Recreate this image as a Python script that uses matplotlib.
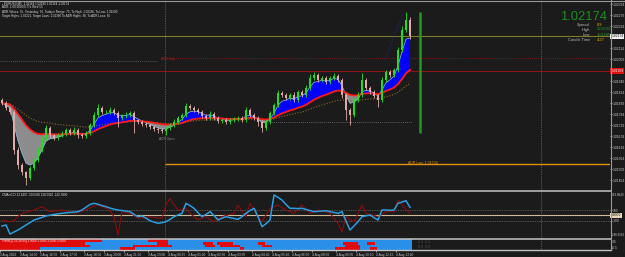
import matplotlib
matplotlib.use('Agg')
import matplotlib.pyplot as plt
from matplotlib.lines import Line2D
import matplotlib.transforms as mtransforms
import numpy as np
import pandas as pd

plt.rcParams['font.family'] = ['Liberation Sans', 'DejaVu Sans']

# ---------------- data ----------------
first_open = 1.01854
close = [1.01839, 1.01814, 1.01794, 1.01604, 1.01529, 1.01494, 1.01464, 1.01514, 1.01554, 1.01604,
         1.01664, 1.01714, 1.01679, 1.01664, 1.01679, 1.01684, 1.01704, 1.01689, 1.01704, 1.01679,
         1.01674, 1.01689, 1.01729, 1.01779, 1.01814, 1.01794, 1.01794, 1.01804, 1.01789, 1.01764,
         1.01774, 1.01779, 1.01789, 1.01754, 1.01744, 1.01734, 1.01729, 1.01719, 1.01709, 1.01704,
         1.01699, 1.01714, 1.01729, 1.01744, 1.01764, 1.01779, 1.01824, 1.01814, 1.01804, 1.01794,
         1.01774, 1.01764, 1.01784, 1.01764, 1.01749, 1.01754, 1.01744, 1.01754, 1.01759, 1.01764,
         1.01754, 1.01804, 1.01779, 1.01764, 1.01744, 1.01714, 1.01744, 1.01789, 1.01829, 1.01889,
         1.01879, 1.01864, 1.01879, 1.01854, 1.01894, 1.01879, 1.01914, 1.01964, 1.01979, 1.01954,
         1.01964, 1.01944, 1.01964, 1.01974, 1.01954, 1.01879, 1.01804, 1.01779, 1.01854, 1.01879,
         1.01954, 1.01914, 1.01894, 1.01874, 1.01854, 1.01954, 1.01994, 1.01979, 1.02004, 1.02104,
         1.02204, 1.02254, 1.02174]
upper_wick_pips = [1, 1, 0.5, 1, 1.5, 1, 0.5, 1, 1, 1.5,
                   1, 1.5, 1, 0.5, 1, 1.5, 1, 1, 1.5, 1,
                   1, 1, 1, 1.5, 2, 1, 1, 1.5, 1, 1,
                   1, 1.5, 1, 1, 0.5, 1, 1, 0.5, 1, 1,
                   1, 1, 1, 1.5, 1, 1, 1.5, 1, 1, 1,
                   1, 1, 1.5, 1, 1, 0.5, 1, 1, 1, 1,
                   1, 1.5, 1, 1, 1, 1, 1, 1, 1, 1.5,
                   1, 1, 1, 1.5, 1, 1, 1.5, 2, 1.5, 1,
                   1, 1, 1, 1.5, 1, 1, 1, 1, 1, 1.5,
                   3.5, 1, 1, 1, 1, 1.5, 1, 1, 1, 1.5,
                   2, 4, 1.5]
lower_wick_pips = [1, 1, 1, 2, 2, 1.5, 3.5, 1, 1, 1,
                   1, 1, 1.5, 1, 1, 1, 1, 1, 1, 1.5,
                   1, 1, 1, 1, 1, 1, 1, 1, 1, 4.5,
                   1, 1, 1, 6.5, 1, 1, 1, 1, 1, 1.5,
                   1, 2, 1, 1, 1, 1, 1, 1, 1, 1,
                   1, 1, 1, 1, 1, 1, 1, 1, 1, 1,
                   1, 1, 1, 1, 2, 2, 1, 1, 1, 1,
                   1, 1, 1, 1, 1, 1, 1, 1, 1, 1,
                   1, 1, 1, 1, 1, 1.5, 5, 5, 1, 1,
                   1, 1, 1, 1, 3.5, 1, 1, 1, 1, 1,
                   1, 1, 1.5]

cci_blue = [-191, -173, -337, -300, -264, -220, -173, -130, -82, -60,
            -35, -9, 5, 20, 30, 40, 48, 55, 62, 69,
            100, 150, 200, 222, 205, 180, 160, 135, 115, 100,
            90, 80, 69, 20, -22, -9, -50, -95, -120, -142,
            -130, -113, -70, -22, 10, 40, 222, 180, 131, 50,
            -22, 20, 69, 0, -82, -50, -22, -40, -55, -69,
            -20, 40, 90, 131, -22, -204, -150, -82, 373, 330,
            282, 200, 131, 131, 125, 131, 110, 90, 69, 75,
            80, 87, 70, 55, 40, 69, -100, -264, -190, -113,
            -22, -5, 9, -40, -82, 100, 100, 95, 100, 222,
            245, 269, 149]
cci_red = [-82, -100, -113, -90, -20, 40, 60, 80, 100, 130,
           160, 120, 69, 80, 90, 100, 80, 60, 40, 60,
           80, 100, 140, 170, 191, 160, 131, 80, -22, -355,
           69, 50, 40, 0, -51, -40, -30, -22, -35, -45,
           -51, 191, 313, 200, 100, 115, 131, 40, -20, -82,
           -50, -22, -70, -113, -60, -22, 0, 20, 40, 191,
           80, -22, 222, 100, -22, -113, 10, 131, 160, 191,
           140, 100, 70, 40, 110, 191, 110, 40, 70, 100,
           80, 60, 40, -50, -142, -295, -22, -70, -113, 40,
           191, 40, 20, 0, -22, 20, 69, 69, 69, 282,
           191, 110, 40]

# trend rows: red segments (candle index start, end); remaining span is blue
trend_red = [
    [(0, 25.5), (37, 42)],
    [(0, 21.25), (39.25, 42), (50.75, 53.25), (54.25, 58.25), (64.5, 66.25), (85.75, 89.5), (91.75, 93.75)],
    [(0, 22.5), (33.25, 43), (51.25, 53.75), (55, 60), (65.5, 68), (86.25, 90)],
    [(0, 10), (30, 33.75), (60, 61), (83.75, 90), (92.5, 94.25)],
]

price_ticks = [1.02334, 1.02279, 1.02224, 1.02114, 1.02059, 1.01949, 1.01894, 1.01839,
               1.01784, 1.01729, 1.01674, 1.01619, 1.01564, 1.01509, 1.01454]
x_tick_idx = [0, 5, 10, 15, 21, 26, 31, 37, 42, 47, 52, 57, 63, 68, 73, 78, 84, 89, 94, 99]
x_tick_labels = ["3 Aug 2022", "3 Aug 14:00", "3 Aug 16:00", "3 Aug 17:00", "3 Aug 18:00",
                 "3 Aug 20:00", "3 Aug 21:00", "3 Aug 23:00", "4 Aug 00:15", "4 Aug 01:20",
                 "4 Aug 02:30", "4 Aug 03:35", "4 Aug 04:40", "4 Aug 05:45", "4 Aug 06:50",
                 "4 Aug 08:00", "4 Aug 09:05", "4 Aug 10:50", "4 Aug 12:15", "4 Aug 13:20"]

current_price = 1.02174
red_level = 1.01999
adr_high = 1.02064
prev_high = 1.02049
open_level = 1.01744
adr_low = 1.01534
adr_open_text = 1.01659
range_bar = (1.01689, 1.02294)
proj_line_x = [95.75, 100.25]
proj_line_y = [1.02054, 1.02289]
day_sep = [40.75, 134.75]
range_bar_x = 104.5

# ---------------- styling ----------------
W, H = 625, 257
BG = '#1b1b1b'
GRID = '#8a8a8a'
SEP = '#c4c4c4'
TXT = '#c8c8c8'
UPC = '#1fe01f'
DNC = '#e0aaa8'

fig = plt.figure(figsize=(W / 100, H / 100), dpi=100, facecolor=BG)


def rect(y0, y1, x0=0, x1=610):
    return [x0 / W, 1 - y1 / H, (x1 - x0) / W, (y1 - y0) / H]


XL = (-0.5, 152)
ax = fig.add_axes(rect(0.5, 190))
axc = fig.add_axes(rect(192, 238))
axb = fig.add_axes(rect(239, 250))
for a in (ax, axc, axb):
    a.set_facecolor(BG)
    for s in a.spines.values():
        s.set_visible(False)
    a.set_xlim(*XL)
    a.tick_params(axis='x', bottom=False, labelbottom=False)

# ---------- main price panel ----------
idx = np.arange(len(close))
c = np.array(close)
o = np.concatenate([[first_open], c[:-1]])
hi = np.maximum(o, c) + np.array(upper_wick_pips) * 0.0001
lo = np.minimum(o, c) - np.array(lower_wick_pips) * 0.0001
up = c >= o
cols = np.where(up, UPC, DNC)

fast = pd.Series(c).ewm(span=4, adjust=False).mean().values
slow = pd.Series(c).ewm(span=20, adjust=False).mean().values
longma = pd.Series(c).ewm(span=40, adjust=False).mean().values

ax.set_ylim(1.01404, 1.02354)
ax.fill_between(idx, fast, slow, where=fast >= slow, interpolate=True, color='#0000ff', lw=0, zorder=2)
ax.fill_between(idx, fast, slow, where=fast < slow, interpolate=True, color='#8c8c8c', lw=0, zorder=2)
ax.plot(idx, fast, color='#8cc4ee', lw=0.5, zorder=3)
ax.plot(idx, longma, color='#8b6a2a', lw=0.8, ls=(0, (1, 1.5)), zorder=3)
ax.plot(idx, slow, color='#ff1a1a', lw=1.3, zorder=4)

ax.vlines(idx, lo, hi, colors=cols, lw=0.6, zorder=5)
body = np.maximum(np.abs(c - o), 0.00002)
ax.bar(idx, body, bottom=np.minimum(o, c), width=0.55, color=cols, lw=0, zorder=6)

for xs in day_sep:
    ax.axvline(xs, color=GRID, lw=0.5, ls=(0, (1, 1.5)), zorder=1)
ax.axhline(current_price, color='#7a7a2c', lw=0.8, zorder=1)
ax.axhline(red_level, color='#8a1414', lw=0.8, zorder=1)
ax.hlines(adr_high, day_sep[0], XL[1], color='#9a1a1a', lw=0.6, ls=(0, (1, 1.5)), zorder=1)
ax.hlines(prev_high, XL[0], day_sep[0] - 2, color='#666666', lw=0.6, ls=(0, (1, 1.5)), zorder=1)
ax.hlines(open_level, 65.75, 102.5, color='#777777', lw=0.6, ls=(0, (1, 1.5)), zorder=1)
ax.hlines(adr_low, day_sep[0], XL[1], color='#e0900f', lw=1.0, zorder=1)
ax.vlines(range_bar_x, range_bar[0], range_bar[1], color='#1f9a1f', lw=1.8, zorder=3)
ax.plot(proj_line_x, proj_line_y, color='#1a2aa0', lw=0.6, ls=(0, (1, 1.2)), zorder=3)

ax.text(day_sep[0] - 1, adr_high - 0.00002, 'ADR High', color='#b02020', fontsize=2.3, va='center', zorder=7)
ax.text(day_sep[0] - 1.5, adr_open_text, 'ADR Open', color='#8a8a8a', fontsize=2.3, va='center', zorder=7)
ax.text(101.5, adr_low + 0.00007, 'ADR Low: 1.01534', color='#e0900f', fontsize=2.5, va='center', zorder=7)

ax.yaxis.tick_right()
ax.set_yticks(price_ticks)
ax.set_yticklabels([f'{v:.5f}' for v in price_ticks])
ax.tick_params(axis='y', direction='out', length=1.5, width=0.5, pad=0.8, labelsize=2.4,
               colors=TXT)

tr = mtransforms.blended_transform_factory(ax.transAxes, ax.transData)
ax.text(1.002, current_price, f'{current_price:.5f}', transform=tr, fontsize=2.4, color='#111111',
        va='center', ha='left', clip_on=False,
        bbox=dict(boxstyle='square,pad=0.25', fc='#f0f0f0', ec='none'), zorder=10)
ax.text(1.002, red_level, f'{red_level:.5f}', transform=tr, fontsize=2.4, color='#f0f0f0',
        va='center', ha='left', clip_on=False,
        bbox=dict(boxstyle='square,pad=0.25', fc='#e01010', ec='none'), zorder=10)

info = ["\u25aa EURUSD,M5  1.02169 1.02180 1.02164 1.02174",
        "ADR: 1.00 0000/0.77s Wed 55",
        "ADR Values: 96, Yesterday: 90, Today's Range: 75, To High: 1.02236, To Low: 1.01580",
        "Target Highs: 1.02221, Target Lows: 1.01380 To ADR Highs: 38, To ADR Lows: 65"]
for k, line in enumerate(info):
    fig.text(2 / W, 1 - (3.5 + 4 * k) / H, line, color='#dddddd', fontsize=2.2, va='center', ha='left')

fig.text(607 / W, 1 - 17 / H, f'{current_price:.5f}', color='#1e8c1e', fontsize=9.4, va='center', ha='right')
rows = [("Spread", "0.9", '#d4b000', 25), ("High", "1.02236", '#2a9a2a', 29.5),
        ("Low", "1.01565", '#2a9a2a', 34.5), ("Candle Time", "4:27", '#d4b000', 40)]
for lab, val, vc, yy in rows:
    fig.text(590 / W, 1 - yy / H, lab, color='#b8b8b8', fontsize=2.9, va='center', ha='right')
    fig.text(597 / W, 1 - yy / H, val, color=vc, fontsize=2.9, va='center', ha='left')

# ---------- CCI panel ----------
axc.set_ylim(-409.6, 427.6)
axc.axhline(100, color=GRID, lw=0.5, ls=(0, (1, 1.5)))
axc.axhline(-100, color=GRID, lw=0.5, ls=(0, (1, 1.5)))
axc.axhline(0, color='#cdbb9a', lw=0.8)
for xs in day_sep:
    axc.axvline(xs, color=GRID, lw=0.5, ls=(0, (1, 1.5)))
axc.plot(idx, cci_red, color='#8e0c0c', lw=0.8, zorder=3)
axc.plot(idx, cci_blue, color='#2a9ee0', lw=1.1, zorder=4)
axc.yaxis.tick_right()
axc.set_yticks([100, -100])
axc.set_yticklabels(['100', '-100'])
axc.tick_params(axis='y', direction='out', length=1.5, width=0.5, pad=0.8, labelsize=2.4, colors=TXT)
trc = mtransforms.blended_transform_factory(axc.transAxes, axc.transData)
axc.text(1.002, 0, '0.0000', transform=trc, fontsize=2.4, color='#111111', va='center', ha='left',
         clip_on=False, bbox=dict(boxstyle='square,pad=0.25', fc='#e8d8b8', ec='none'))
fig.text(611.5 / W, 1 - 194.5 / H, '452.8643', color=TXT, fontsize=2.2, va='center')
fig.text(611.5 / W, 1 - 235.5 / H, '-386.6582', color=TXT, fontsize=2.1, va='center')
axc.text(0.003, 0.93, 'CMArrCCI 13.2497 -59.6310 138.5810 -102.3800', transform=axc.transAxes,
         color='#dddddd', fontsize=2.2, va='center')

# ---------- trend rows panel ----------
axb.set_ylim(0, 4)
axb.set_yticks([])
for r, segs in enumerate(trend_red):
    yb = 3 - r
    axb.broken_barh([(-0.5, 103)], (yb, 1), facecolors='#2a8fe8', lw=0)
    axb.broken_barh([(s - 0.5, e - s) for s, e in segs], (yb, 1), facecolors='#e00c0c', lw=0)
axb.axvline(day_sep[1], color=GRID, lw=0.5, ls=(0, (1, 1.5)))
axb.text(0.003, 0.85, 'Trend [5,15,30,60] 1.0000 1.0000 1.0000 1.0000', transform=axb.transAxes,
         color='#f0f0f0', fontsize=2.2, va='center')
axb.text(104, 2.9, '1.1  1.1', color='#555555', fontsize=2.6, va='center')
axb.text(104, 1.1, '0.0  0.0', color='#555555', fontsize=2.6, va='center')
fig.text(612 / W, 1 - 241.7 / H, '3.5', color=TXT, fontsize=2.4, va='center')
fig.text(612 / W, 1 - 247.7 / H, '-0.5', color=TXT, fontsize=2.4, va='center')

axb.set_xticks([i - 0.5 for i in x_tick_idx])
axb.set_xticklabels(x_tick_labels)
axb.tick_params(axis='x', bottom=True, labelbottom=True, direction='out', length=1.5, width=0.5,
                pad=0.6, labelsize=2.3, colors=TXT)
for t in axb.get_xticklabels():
    t.set_ha('left')

# ---------- panel borders ----------
def fline(x0, y0, x1, y1, **kw):
    fig.add_artist(Line2D([x0 / W, x1 / W], [1 - y0 / H, 1 - y1 / H], transform=fig.transFigure, **kw))

fline(0, 0.5, 625, 0.5, color='#9a9a9a', lw=0.8)
fline(0, 191, 610.5, 191, color=SEP, lw=1.1)
fline(0, 238.5, 610.5, 238.5, color=SEP, lw=1.1)
fline(0, 250, 610.5, 250, color=SEP, lw=1.0)
fline(610.5, 0, 610.5, 250, color='#9a9a9a', lw=0.8)

fig.savefig('out.png', dpi=100, facecolor=BG)
